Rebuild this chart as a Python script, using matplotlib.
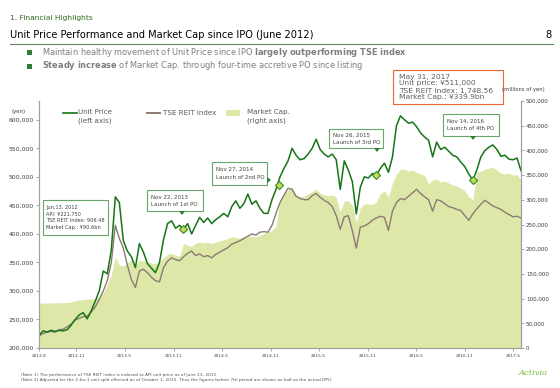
import numpy as np
import pandas as pd
import matplotlib
matplotlib.use("Agg")
import matplotlib.pyplot as plt
import matplotlib.ticker as mticker
from matplotlib.patches import Rectangle, Polygon
from matplotlib.lines import Line2D

# data (roughly every half month)
dates = pd.date_range("2012-06-13", "2017-05-31", periods=121)

unit_price = [
    221750, 230000, 228000, 231000, 229000, 231000, 230000, 232000, 240000, 250000,
    258000, 262000, 251000, 265000, 282000, 300000, 335000, 330000, 372000, 465000,
    455000, 388000, 370000, 360000, 341000, 383000, 368000, 348000, 340000, 332000,
    350000, 390000, 418000, 423000, 410000, 415000, 408000, 418000, 400000, 415000,
    429000, 420000, 428000, 418000, 425000, 430000, 436000, 430000, 448000, 458000,
    445000, 453000, 470000, 452000, 458000, 445000, 436000, 436000, 460000, 478000,
    500000, 515000, 528000, 550000, 538000, 530000, 532000, 540000, 550000, 566000,
    548000, 540000, 535000, 540000, 530000, 478000, 528000, 512000, 492000, 435000,
    482000, 500000, 498000, 506000, 503000, 515000, 524000, 508000, 535000, 590000,
    607000, 600000, 594000, 596000, 588000, 577000, 570000, 564000, 535000, 561000,
    548000, 552000, 545000, 538000, 535000, 526000, 518000, 505000, 494000, 512000,
    535000, 546000, 552000, 556000, 548000, 536000, 538000, 531000, 530000, 533000,
    511000,
]

reit_index = [
    221750, 225000, 228000, 229000, 228000, 232000, 233000, 237000, 242000, 249000,
    252000, 255000, 256000, 263000, 272000, 285000, 300000, 318000, 350000, 415000,
    392000, 375000, 345000, 320000, 306000, 335000, 338000, 332000, 324000, 318000,
    316000, 341000, 352000, 358000, 355000, 353000, 360000, 366000, 370000, 362000,
    365000, 360000, 362000, 358000, 364000, 368000, 372000, 376000, 382000, 385000,
    388000, 392000, 396000, 400000, 398000, 403000, 404000, 403000, 415000, 436000,
    455000, 468000, 480000, 478000, 466000, 462000, 460000, 460000, 467000, 471000,
    464000, 459000, 455000, 448000, 432000, 408000, 430000, 432000, 406000, 375000,
    412000, 414000, 418000, 424000, 428000, 431000, 429000, 406000, 440000, 455000,
    462000, 460000, 466000, 472000, 478000, 471000, 465000, 460000, 440000, 460000,
    458000, 453000, 448000, 446000, 443000, 441000, 432000, 424000, 435000, 444000,
    452000, 459000, 454000, 449000, 446000, 443000, 438000, 434000, 430000, 431000,
    427750,
]

market_cap = [
    90600, 91000, 91000, 91500, 91000, 91500, 92000, 92000, 93000, 96000,
    97000, 98000, 99000, 99500, 100000, 104000, 112000, 128000, 148000, 184000,
    168000, 166000, 172000, 178000, 166000, 178000, 176000, 175000, 172000, 170000,
    175000, 182000, 190000, 192000, 188000, 186000, 212000, 208000, 206000, 212000,
    215000, 213000, 214000, 212000, 214000, 217000, 219000, 222000, 225000, 224000,
    222000, 225000, 227000, 226000, 225000, 228000, 232000, 235000, 238000, 245000,
    300000, 312000, 320000, 326000, 310000, 306000, 308000, 312000, 316000, 322000,
    313000, 310000, 308000, 310000, 305000, 275000, 298000, 298000, 288000, 255000,
    284000, 292000, 292000, 290000, 296000, 312000, 318000, 306000, 334000, 352000,
    362000, 362000, 358000, 360000, 356000, 352000, 350000, 332000, 340000, 342000,
    336000, 338000, 334000, 330000, 328000, 324000, 318000, 306000, 300000, 356000,
    358000, 362000, 364000, 366000, 360000, 354000, 352000, 354000, 350000, 351000,
    339900,
]

po_dates = pd.to_datetime(["2013-12-05", "2014-12-01", "2015-12-04", "2016-12-03"])
po_price = [408000, 485000, 503000, 494000]

tick_dates = pd.to_datetime(["2012-06-13", "2012-11-01", "2013-05-01", "2013-11-01",
                             "2014-05-01", "2014-11-01", "2015-05-01", "2015-11-01",
                             "2016-05-01", "2016-11-01", "2017-05-01"])
tick_labels = ["2012.6", "2012.11", "2013.5", "2013.11", "2014.5", "2014.11",
               "2015.5", "2015.11", "2016.5", "2016.11", "2017.5"]

W, H = 560, 388
GREEN = "#167516"
REIT = "#8c7a74"
CAP = "#dde8a8"
BOX = "#6aa66a"
GRAY = "#7f7f7f"
DARK = "#404040"


def fx(px):
    return px / W


def fy(py):
    return 1 - py / H


fig = plt.figure(figsize=(5.6, 3.88), dpi=100)

ax = fig.add_axes([fx(39), fy(348), 482 / W, 247 / H])
ax2 = ax.twinx()

ax2.fill_between(dates, market_cap, color=CAP, lw=0)
ax.plot(dates, reit_index, color=REIT, lw=1.0)
ax.plot(dates, unit_price, color=GREEN, lw=1.1)
ax.plot(po_dates, po_price, "D", ms=4.5, mfc="#c8dc50", mec="#2e8b2e", mew=0.8)

ax.set_zorder(ax2.get_zorder() + 1)
ax.patch.set_visible(False)

ax.set_xlim(dates[0], dates[-1])
ax.set_ylim(200000, 633000)
ax2.set_ylim(0, 500000)
ax.set_yticks(range(200000, 600001, 50000))
ax2.set_yticks(range(0, 500001, 50000))
fmt = mticker.StrMethodFormatter("{x:,.0f}")
ax.yaxis.set_major_formatter(fmt)
ax2.yaxis.set_major_formatter(fmt)
ax.set_xticks(tick_dates)
ax.set_xticklabels(tick_labels)

ax.tick_params(axis="y", labelsize=4.4, colors="#999999", labelcolor=DARK, length=2, width=0.6, pad=1.5)
ax2.tick_params(axis="y", labelsize=4.1, colors="#999999", labelcolor=DARK, length=2, width=0.6, pad=1.5)
ax.tick_params(axis="x", labelsize=3.1, colors="#999999", labelcolor=DARK, length=2, width=0.6, pad=2)

for a in (ax, ax2):
    a.spines["top"].set_visible(False)
    for s in ("left", "right", "bottom"):
        a.spines[s].set_color("#a0a0a0")
        a.spines[s].set_linewidth(0.8)

# header
fig.text(fx(10), fy(18), "1. Financial Highlights", fontsize=5.4, color="#2f6b1f", va="center")
fig.text(fx(10), fy(35), "Unit Price Performance and Market Cap since IPO (June 2012)",
         fontsize=7.1, color="black", va="center")
fig.text(fx(545), fy(35), "8", fontsize=7.1, color="black", va="center")
fig.add_artist(Line2D([fx(10), fx(553)], [fy(43.5), fy(43.5)], color="#5f8a5f", lw=0.8))

for yb in (52.5, 66):
    fig.add_artist(Rectangle((fx(27), fy(yb + 2.5)), 5 / W, 5 / H, color="#2e7d32", lw=0))
fig.text(fx(42), fy(52.5),
         r"Maintain healthy movement of Unit Price since IPO $\mathbf{largely\ outperforming\ TSE\ index}$",
         fontsize=5.95, color=GRAY, va="center")
fig.text(fx(42), fy(66),
         r"$\mathbf{Steady\ increase}$ of Market Cap. through four-time accretive PO since listing",
         fontsize=5.95, color=GRAY, va="center")

# axis unit labels
fig.text(fx(19), fy(112), "(yen)", fontsize=3.9, color=DARK, ha="center", va="center")
fig.text(fx(523), fy(90), "(millions of yen)", fontsize=3.8, color=DARK, ha="center", va="center")

# legend
fig.add_artist(Line2D([fx(63), fx(77)], [fy(113), fy(113)], color=GREEN, lw=1.2))
fig.text(fx(78), fy(112), "Unit Price", fontsize=5.1, color="#595959", va="center")
fig.text(fx(78), fy(121), "(left axis)", fontsize=5.1, color="#595959", va="center")
fig.add_artist(Line2D([fx(147), fx(160)], [fy(113), fy(113)], color=REIT, lw=1.4))
fig.text(fx(163), fy(113), "TSE REIT index", fontsize=5.1, color="#595959", va="center")
fig.add_artist(Rectangle((fx(226), fy(116)), 14 / W, 6 / H, color=CAP, lw=0))
fig.text(fx(247), fy(112), "Market Cap.", fontsize=5.1, color="#595959", va="center")
fig.text(fx(247), fy(121), "(right axis)", fontsize=5.1, color="#595959", va="center")


def callout(x0, y0, x1, y1, lines, tx, ty, dy, size, edge, color=DARK):
    fig.add_artist(Rectangle((fx(x0), fy(y1)), (x1 - x0) / W, (y1 - y0) / H,
                             facecolor="white", edgecolor=edge, lw=0.8))
    for k, line in enumerate(lines):
        fig.text(fx(tx), fy(ty + k * dy), line, fontsize=size, color=color, va="center")


def arrow(pts):
    fig.add_artist(Polygon([(fx(px), fy(py)) for px, py in pts], closed=True,
                           color="#2e7d2e", lw=0))


callout(43, 200, 108, 235, ["Jun.13, 2012", "API: \u00a5221,750", "TSE REIT Index: 906.48",
                            "Market Cap.: \u00a590.6bn"], 46, 207, 7, 3.6, BOX)
callout(147, 190, 203, 211, ["Nov 22, 2013", "Launch of 1st PO"], 151, 197, 7.5, 3.95, BOX)
arrow([(179, 211), (185, 211), (182, 215)])
callout(212, 162, 267, 185, ["Nov 27, 2014", "Launch of 2nd PO"], 216, 169.5, 8, 3.95, BOX)
arrow([(267, 177), (267, 183), (271, 180)])
callout(329, 129, 383, 148, ["Nov 26, 2015", "Launch of 3rd PO"], 333, 135, 7.5, 3.95, BOX)
arrow([(374, 148), (380, 148), (377, 152)])
callout(443, 114, 499, 136, ["Nov 14, 2016", "Launch of 4th PO"], 447, 121.5, 7.5, 3.95, BOX)
arrow([(470, 136), (476, 136), (473, 140)])
callout(393, 70, 503, 104, ["May 31, 2017", "Unit price: \u00a5511,000", "TSE REIT index: 1,748.56",
                            "Market Cap.: \u00a5339.9bn"], 399, 76.5, 7, 5.4, "#e8692e", "#606060")

# footnotes and logo
fig.text(fx(21), fy(375), "(Note 1) The performance of TSE REIT index is indexed to API unit price as of June 13, 2012.",
         fontsize=3.05, color="#555555", va="center")
fig.text(fx(21), fy(380), "(Note 2) Adjusted for the 2-for-1 unit split effected as of October 1, 2015. "
         "Thus the figures before 7th period are shown as half as the actual DPU.",
         fontsize=3.05, color="#555555", va="center")
fig.text(fx(533), fy(373), "Activia", fontsize=6, color="#7cbf3a", style="italic",
         family="DejaVu Serif", ha="center", va="center")

fig.savefig("out.png", dpi=100)
